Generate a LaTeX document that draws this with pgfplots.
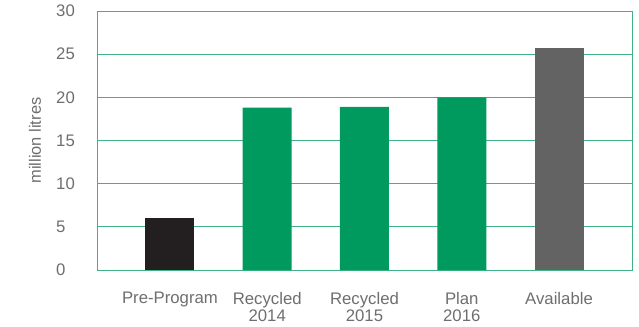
\documentclass[border=0pt]{standalone}
\usepackage{fontspec}
\setmainfont{Liberation Sans}
\usepackage{pgfplots}
\pgfplotsset{compat=1.18}
\definecolor{gridgreen}{RGB}{64,178,134}
\definecolor{bargreen}{RGB}{0,154,94}
\definecolor{barblack}{RGB}{35,31,32}
\definecolor{bargray}{RGB}{99,99,100}
\definecolor{txtgray}{RGB}{110,110,110}
\begin{document}
\begin{tikzpicture}
\path[use as bounding box] (-97bp,-57bp) rectangle (542bp,270bp);
\begin{axis}[
  at={(0,0)}, anchor=south west,
  scale only axis, width=535bp, height=259bp,
  xmin=-0.75, xmax=4.75, ymin=0, ymax=30,
  ytick={0,5,...,30},
  xtick={0,1,2,3,4},
  xticklabels={Pre-Program,Recycled\\2014,Recycled\\2015,Plan\\2016,Available},
  axis line style={gridgreen, line width=0.9pt},
  ymajorgrids, grid style={gridgreen, line width=0.9pt},
  major tick length=0pt,
  tick style={draw=none},
  /pgf/number format/assume math mode=true,
  ticklabel style={text=txtgray, font=\fontsize{16.8}{17}\selectfont, inner sep=0pt},
  yticklabel style={anchor=west, xshift=-41bp},
  xticklabel style={align=center, anchor=north, yshift=-22bp},
  ylabel={million litres},
  every axis y label/.style={text=txtgray, font=\fontsize{16.5}{17}\selectfont, inner sep=0pt, at={(axis description cs:-0.1159,0.5)}, rotate=90, anchor=center},
  ybar, bar width=49bp, bar shift=0pt,
]
\addplot[fill=barblack, draw=none] coordinates {(0,6.0)};
\addplot[fill=bargreen, draw=none] coordinates {(1,18.8) (2,18.9) (3,20.0)};
\addplot[fill=bargray, draw=none] coordinates {(4,25.7)};
\end{axis}
\end{tikzpicture}
\end{document}
